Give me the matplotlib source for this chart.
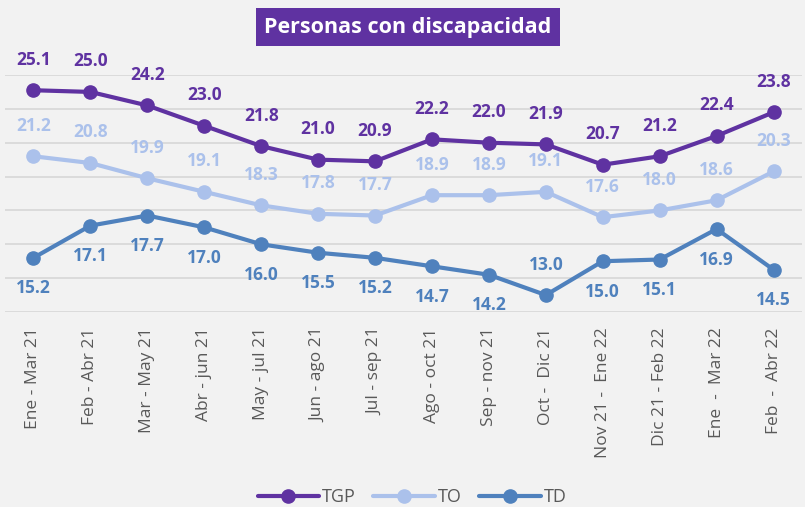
import matplotlib
matplotlib.use("Agg")
import matplotlib.pyplot as plt
import numpy as np

# data
periods = ["Ene - Mar 21", "Feb - Abr 21", "Mar - May 21", "Abr - jun 21",
           "May - jul 21", "Jun - ago 21", "Jul - sep 21", "Ago - oct 21",
           "Sep - nov 21", "Oct -  Dic 21", "Nov 21 -  Ene 22", "Dic 21 - Feb 22",
           "Ene  -  Mar 22", "Feb  -  Abr 22"]
tgp = [25.1, 25.0, 24.2, 23.0, 21.8, 21.0, 20.9, 22.2, 22.0, 21.9, 20.7, 21.2, 22.4, 23.8]
to = [21.2, 20.8, 19.9, 19.1, 18.3, 17.8, 17.7, 18.9, 18.9, 19.1, 17.6, 18.0, 18.6, 20.3]
td = [15.2, 17.1, 17.7, 17.0, 16.0, 15.5, 15.2, 14.7, 14.2, 13.0, 15.0, 15.1, 16.9, 14.5]
td_above = [9]  # TD label placed above the point at Oct - Dic 21

c_tgp = "#5f32a1"
c_to = "#abc1eb"
c_td = "#4f81bd"
bg = "#f2f2f2"

plt.rcParams['font.family'] = ['Open Sans', 'DejaVu Sans']

fig = plt.figure(figsize=(8.05, 5.07), dpi=100, facecolor=bg)
ax = fig.add_axes([5/805, 1 - 312/507, 802/805 - 5/805, (312 - 75)/507])
ax.set_facecolor(bg)

x = np.arange(len(periods))
series = [("TGP", tgp, c_tgp, 1), ("TO", to, c_to, 1), ("TD", td, c_td, -1)]
for name, vals, col, side in series:
    ax.plot(x, vals, color=col, lw=3, marker="o", ms=9.5, label=name,
            solid_capstyle="round", zorder=3)
    for xi, v in zip(x, vals):
        s = side
        if name == "TD" and xi in td_above:
            s = 1
        ax.annotate(f"{v:.1f}", (xi, v), xytext=(0, 22 * s), textcoords="offset points",
                    ha="center", va="center", fontsize=12.5, fontweight="bold",
                    color=col, annotation_clip=False)

ax.set_xlim(-0.5, len(periods) - 0.5)
ax.set_ylim(12, 26)
ax.set_yticks(np.arange(12, 27, 2))
ax.yaxis.grid(True, color="#d9d9d9", lw=1.3)
ax.set_axisbelow(True)
ax.tick_params(axis="y", left=False, labelleft=False)
ax.tick_params(axis="x", length=0, pad=11, labelsize=12.5, labelcolor="#595959")
ax.set_xticks(x)
ax.set_xticklabels(periods, rotation=90)
for s in ax.spines.values():
    s.set_visible(False)

fig.text(408/805, 1 - 27/507, "Personas con discapacidad", ha="center", va="center",
         fontsize=15.5, fontweight="bold", color="white",
         bbox=dict(boxstyle="square,pad=0.4", fc=c_tgp, ec="none"))

fig.legend(loc="center", bbox_to_anchor=(412/805, 1 - 497/507), ncol=3, frameon=False,
           fontsize=13, handlelength=3.4, columnspacing=1.0, handletextpad=0.15,
           labelcolor="#595959")

fig.savefig("out.png", dpi=100, facecolor=bg)
